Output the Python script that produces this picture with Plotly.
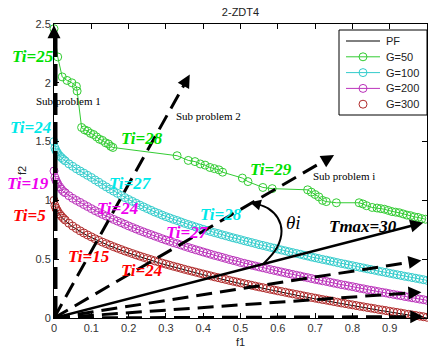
import math
import plotly.graph_objects as go

# ---------------- data ----------------
# shared f1 samples for the PF and the G=100/200/300 populations
grid_f1 = [0.0, 0.0025, 0.005, 0.0075, 0.01, 0.015, 0.02, 0.025, 0.03, 0.04, 0.05, 0.06, 0.07, 0.08, 0.09,
           0.10, 0.11, 0.12, 0.13, 0.14, 0.15, 0.16, 0.17, 0.18, 0.19,
           0.20, 0.21, 0.22, 0.23, 0.24, 0.25, 0.26, 0.27, 0.28, 0.29,
           0.30, 0.31, 0.32, 0.33, 0.34, 0.35, 0.36, 0.37, 0.38, 0.39,
           0.40, 0.41, 0.42, 0.43, 0.44, 0.45, 0.46, 0.47, 0.48, 0.49,
           0.50, 0.51, 0.52, 0.53, 0.54, 0.55, 0.56, 0.57, 0.58, 0.59,
           0.60, 0.61, 0.62, 0.63, 0.64, 0.65, 0.66, 0.67, 0.68, 0.69,
           0.70, 0.71, 0.72, 0.73, 0.74, 0.75, 0.76, 0.77, 0.78, 0.79,
           0.80, 0.81, 0.82, 0.83, 0.84, 0.85, 0.86, 0.87, 0.88, 0.89,
           0.90, 0.91, 0.92, 0.93, 0.94, 0.95, 0.96, 0.97, 0.98, 0.99, 1.00]

pf_f2 = [1.000, 0.950, 0.929, 0.913, 0.900, 0.878, 0.859, 0.842, 0.827, 0.800, 0.776, 0.755, 0.735, 0.717, 0.700,
         0.684, 0.668, 0.654, 0.639, 0.626, 0.613, 0.600, 0.588, 0.576, 0.564,
         0.553, 0.542, 0.531, 0.520, 0.510, 0.500, 0.490, 0.480, 0.471, 0.461,
         0.452, 0.443, 0.434, 0.426, 0.417, 0.408, 0.400, 0.392, 0.384, 0.376,
         0.368, 0.360, 0.352, 0.344, 0.337, 0.329, 0.322, 0.314, 0.307, 0.300,
         0.293, 0.286, 0.279, 0.272, 0.265, 0.258, 0.252, 0.245, 0.238, 0.232,
         0.225, 0.219, 0.213, 0.206, 0.200, 0.194, 0.188, 0.181, 0.175, 0.169,
         0.163, 0.157, 0.151, 0.146, 0.140, 0.134, 0.128, 0.122, 0.117, 0.111,
         0.106, 0.100, 0.094, 0.089, 0.083, 0.078, 0.073, 0.067, 0.062, 0.057,
         0.051, 0.046, 0.041, 0.036, 0.030, 0.025, 0.020, 0.015, 0.010, 0.005, 0.000]

g100_f2 = [1.500, 1.446, 1.426, 1.411, 1.400, 1.380, 1.364, 1.349, 1.336, 1.311, 1.290, 1.269, 1.250, 1.232, 1.213,
           1.195, 1.174, 1.155, 1.134, 1.115, 1.096, 1.078, 1.060, 1.042, 1.024,
           1.008, 0.992, 0.976, 0.960, 0.945, 0.930, 0.916, 0.901, 0.889, 0.875,
           0.862, 0.851, 0.839, 0.829, 0.817, 0.805, 0.795, 0.785, 0.774, 0.764,
           0.754, 0.745, 0.735, 0.726, 0.718, 0.708, 0.700, 0.691, 0.682, 0.674,
           0.666, 0.657, 0.649, 0.641, 0.633, 0.624, 0.617, 0.609, 0.601, 0.594,
           0.586, 0.578, 0.571, 0.563, 0.556, 0.549, 0.542, 0.534, 0.527, 0.519,
           0.512, 0.505, 0.498, 0.492, 0.485, 0.478, 0.471, 0.464, 0.458, 0.451,
           0.445, 0.438, 0.431, 0.425, 0.418, 0.412, 0.406, 0.399, 0.393, 0.387,
           0.380, 0.374, 0.368, 0.362, 0.355, 0.350, 0.344, 0.338, 0.332, 0.326, 0.320]

g200_f2 = [1.250, 1.195, 1.172, 1.154, 1.140, 1.116, 1.095, 1.076, 1.065, 1.040, 1.018, 1.000, 0.983, 0.965, 0.948,
           0.930, 0.913, 0.897, 0.881, 0.867, 0.852, 0.838, 0.824, 0.811, 0.797,
           0.783, 0.770, 0.757, 0.744, 0.732, 0.720, 0.709, 0.697, 0.686, 0.674,
           0.663, 0.652, 0.641, 0.632, 0.621, 0.610, 0.600, 0.590, 0.580, 0.571,
           0.561, 0.552, 0.542, 0.533, 0.525, 0.516, 0.507, 0.498, 0.490, 0.482,
           0.472, 0.465, 0.457, 0.449, 0.442, 0.434, 0.427, 0.420, 0.412, 0.405,
           0.398, 0.391, 0.384, 0.377, 0.370, 0.363, 0.357, 0.349, 0.343, 0.336,
           0.329, 0.323, 0.316, 0.311, 0.304, 0.297, 0.291, 0.284, 0.279, 0.272,
           0.267, 0.260, 0.253, 0.248, 0.241, 0.236, 0.230, 0.224, 0.218, 0.213,
           0.206, 0.201, 0.195, 0.190, 0.183, 0.178, 0.172, 0.167, 0.161, 0.156, 0.150]

g300_f2 = [1.000, 0.956, 0.935, 0.919, 0.906, 0.884, 0.865, 0.848, 0.833, 0.806, 0.782, 0.761, 0.741, 0.723, 0.706,
           0.690, 0.674, 0.660, 0.645, 0.632, 0.619, 0.606, 0.594, 0.582, 0.570,
           0.559, 0.548, 0.537, 0.526, 0.516, 0.506, 0.496, 0.486, 0.477, 0.467,
           0.458, 0.449, 0.440, 0.432, 0.423, 0.414, 0.406, 0.398, 0.390, 0.382,
           0.374, 0.366, 0.358, 0.350, 0.343, 0.335, 0.328, 0.320, 0.313, 0.306,
           0.299, 0.292, 0.285, 0.278, 0.271, 0.264, 0.258, 0.251, 0.244, 0.238,
           0.231, 0.225, 0.219, 0.212, 0.206, 0.200, 0.194, 0.187, 0.181, 0.175,
           0.169, 0.163, 0.157, 0.152, 0.146, 0.140, 0.134, 0.128, 0.123, 0.117,
           0.112, 0.106, 0.100, 0.095, 0.089, 0.084, 0.079, 0.073, 0.068, 0.063,
           0.057, 0.052, 0.047, 0.042, 0.036, 0.031, 0.026, 0.021, 0.016, 0.011, 0.006]

g50_f1 = [0.0, 0.01, 0.022, 0.035, 0.048, 0.06, 0.062, 0.074, 0.082, 0.09, 0.098, 0.106, 0.114,
          0.122, 0.13, 0.138, 0.146, 0.152, 0.158, 0.33, 0.36, 0.378, 0.392, 0.405, 0.418, 0.43,
          0.442, 0.452, 0.505, 0.52, 0.56, 0.585, 0.68, 0.69, 0.70, 0.71, 0.72, 0.73, 0.757, 0.818,
          0.828, 0.838, 0.853, 0.866, 0.876, 0.886, 0.896, 0.906, 0.916, 0.926, 0.936, 0.946, 0.956,
          0.966, 0.976, 0.986, 0.996]
g50_f2 = [2.46, 2.22, 2.05, 2.02, 2.00, 1.97, 1.93, 1.62, 1.60, 1.59, 1.57, 1.56, 1.54,
          1.52, 1.51, 1.49, 1.48, 1.46, 1.45, 1.38, 1.34, 1.33, 1.31, 1.30, 1.28, 1.27,
          1.26, 1.24, 1.19, 1.16, 1.11, 1.10, 1.09, 1.07, 1.05, 1.03, 1.00, 0.99, 0.98, 0.98,
          0.97, 0.955, 0.94, 0.935, 0.93, 0.925, 0.915, 0.905, 0.90, 0.895, 0.885, 0.875, 0.87,
          0.86, 0.855, 0.845, 0.84]

# weight-vector directions from the origin (arrow tips)
dir_tip_f1 = [0.0, 0.364, 0.751, 0.99, 0.985, 0.985, 0.99]
dir_tip_f2 = [2.49, 2.07, 1.386, 0.81, 0.49, 0.22, 0.012]
dir_kind = ["long", "dash", "dash", "solid", "dash", "dash", "dash"]

# angle arc between Tmax direction and sub problem i
theta_arc_f1 = [0.561, 0.598, 0.610, 0.600, 0.575, 0.545, 0.525]
theta_arc_f2 = [0.46, 0.60, 0.74, 0.85, 0.93, 0.968, 0.985]

# Ti annotations
ti_text = ["Ti=25", "Ti=24", "Ti=19", "Ti=5", "Ti=15", "Ti=24", "Ti=24", "Ti=27",
           "Ti=27", "Ti=28", "Ti=28", "Ti=29"]
ti_f1 = [-0.056, -0.064, -0.07, -0.067, 0.094, 0.235, 0.171, 0.358, 0.206, 0.449, 0.235, 0.583]
ti_f2 = [2.22, 1.62, 1.14, 0.87, 0.52, 0.40, 0.93, 0.73, 1.14, 0.876, 1.53, 1.26]
ti_color = ["#00e000", "#00e8e8", "#ee00ee", "#ff0000", "#ff0000", "#ff0000", "#ee00ee", "#ee00ee",
            "#00e8e8", "#00e8e8", "#00e000", "#00e000"]

sub_text = ["Sub problem 1", "Sub problem 2", "Sub problem i"]
sub_f1 = [0.04, 0.414, 0.778]
sub_f2 = [1.845, 1.72, 1.21]

legend_names = ["PF", "G=50", "G=100", "G=200", "G=300"]

# ---------------- styling ----------------
W, H = 428, 348
ML, MR, MT, MB = 54, 1, 24, 30
X_RANGE = [0, 1]
Y_RANGE = [0, 2.5]
PLOT_W = W - ML - MR
PLOT_H = H - MT - MB
PX_X = PLOT_W / (X_RANGE[1] - X_RANGE[0])
PX_Y = PLOT_H / (Y_RANGE[1] - Y_RANGE[0])

C_G50 = "#33cc33"
C_G100 = "#33cccc"
C_G200 = "#bb33bb"
C_G300 = "#b02a2a"
legend_colors = ["black", C_G50, C_G100, C_G200, C_G300]
legend_line = [True, True, True, True, False]
legend_marker = [False, True, True, True, True]

MS = 8


def paper_x(px):
    return (px - ML) / PLOT_W


def paper_y(py):
    return (H - MB - py) / PLOT_H


fig = go.Figure()

fig.add_trace(go.Scatter(x=grid_f1, y=pf_f2, mode="lines", name="PF", showlegend=False,
                         line=dict(color="black", width=1)))
fig.add_trace(go.Scatter(x=g50_f1, y=g50_f2, mode="lines+markers", name="G=50", showlegend=False,
                         line=dict(color=C_G50, width=1),
                         marker=dict(symbol="circle-open", size=MS, color=C_G50, line=dict(width=1)),
                         cliponaxis=False))
fig.add_trace(go.Scatter(x=grid_f1, y=g100_f2, mode="lines+markers", name="G=100", showlegend=False,
                         line=dict(color=C_G100, width=1),
                         marker=dict(symbol="circle-open", size=MS, color=C_G100, line=dict(width=1)),
                         cliponaxis=False))
fig.add_trace(go.Scatter(x=grid_f1, y=g200_f2, mode="lines+markers", name="G=200", showlegend=False,
                         line=dict(color=C_G200, width=1),
                         marker=dict(symbol="circle-open", size=MS, color=C_G200, line=dict(width=1)),
                         cliponaxis=False))
fig.add_trace(go.Scatter(x=grid_f1, y=g300_f2, mode="markers", name="G=300", showlegend=False,
                         marker=dict(symbol="circle-open", size=MS, color=C_G300, line=dict(width=1)),
                         cliponaxis=False))


def back_off(tx, ty, fx, fy, px):
    """Point px pixels before (tx, ty) along the direction from (fx, fy)."""
    dx = (tx - fx) * PX_X
    dy = (ty - fy) * PX_Y
    n = math.hypot(dx, dy)
    return tx - dx / n * px / PX_X, ty - dy / n * px / PX_Y


annotations = []
shapes = []
dash_styles = {"long": ("22px,7px", 7), "dash": ("16px,8px", 3), "solid": ("solid", 2.5)}
for tx, ty, kind in zip(dir_tip_f1, dir_tip_f2, dir_kind):
    dash, width = dash_styles[kind]
    ex, ey = back_off(tx, ty, 0, 0, 8)
    fig.add_trace(go.Scatter(x=[0, ex], y=[0, ey], mode="lines", showlegend=False,
                             hoverinfo="skip", line=dict(color="black", width=width, dash=dash)))
    hx, hy = back_off(tx, ty, 0, 0, 14)
    annotations.append(dict(x=tx, y=ty, ax=hx, ay=hy, xref="x", yref="y", axref="x", ayref="y",
                            text="", showarrow=True, arrowhead=2, arrowsize=1.3, arrowwidth=2,
                            arrowcolor="black", standoff=0, startstandoff=0))

# angle arc with its arrowhead
fig.add_trace(go.Scatter(x=theta_arc_f1[:-1], y=theta_arc_f2[:-1], mode="lines", showlegend=False,
                         hoverinfo="skip", line=dict(color="black", width=2, shape="spline")))
hx, hy = back_off(theta_arc_f1[-1], theta_arc_f2[-1], theta_arc_f1[-2], theta_arc_f2[-2], 11)
annotations.append(dict(x=theta_arc_f1[-1], y=theta_arc_f2[-1], ax=hx, ay=hy, xref="x", yref="y",
                        axref="x", ayref="y", text="", showarrow=True, arrowhead=2, arrowsize=1.1,
                        arrowwidth=2, arrowcolor="black", standoff=0))

# Ti labels (x range is 0..1, so paper x equals f1 and labels left of the axis stay visible)
for t, x, y, c in zip(ti_text, ti_f1, ti_f2, ti_color):
    annotations.append(dict(x=(x - X_RANGE[0]) / (X_RANGE[1] - X_RANGE[0]), y=y, xref="paper", yref="y",
                            xanchor="center", yanchor="middle",
                            text="<b><i>%s</i></b>" % t, showarrow=False,
                            font=dict(family="Liberation Serif", size=17, color=c)))

for t, x, y in zip(sub_text, sub_f1, sub_f2):
    annotations.append(dict(x=x, y=y, xref="x", yref="y", text=t, showarrow=False,
                            xanchor="center", yanchor="middle",
                            font=dict(family="Liberation Serif", size=11, color="black")))

annotations.append(dict(x=0.829, y=0.78, xref="x", yref="y", text="<b><i>Tmax=30</i></b>",
                        xanchor="center", yanchor="middle",
                        showarrow=False, font=dict(family="Liberation Serif", size=17, color="black")))
annotations.append(dict(x=0.642, y=0.816, xref="x", yref="y", text="<i>θi</i>",
                        xanchor="center", yanchor="middle",
                        showarrow=False, font=dict(family="Liberation Serif", size=19, color="black")))

# axis titles
annotations.append(dict(x=0.5, y=0, xref="paper", yref="paper", yshift=-24, yanchor="middle",
                        xanchor="center", text="f1", showarrow=False,
                        font=dict(family="Liberation Sans", size=11, color="#222")))
annotations.append(dict(x=0, y=0.5, xref="paper", yref="paper", xshift=-32, xanchor="center",
                        yanchor="middle", text="f2", textangle=-90, showarrow=False,
                        font=dict(family="Liberation Sans", size=11, color="#222")))

# legend box
LG_L, LG_R, LG_T, LG_B = 339, 427, 30, 115
LG_ROW0, LG_STEP = 41, 15.8
LG_LINE_L, LG_LINE_R, LG_TEXT = 346, 380, 384
shapes.append(dict(type="rect", xref="paper", yref="paper", x0=paper_x(LG_L), x1=paper_x(LG_R),
                   y0=paper_y(LG_B), y1=paper_y(LG_T), line=dict(color="black", width=1),
                   fillcolor="white", layer="above"))
for i, (name, col, has_line, has_marker) in enumerate(zip(legend_names, legend_colors,
                                                           legend_line, legend_marker)):
    cy = LG_ROW0 + i * LG_STEP
    if has_line:
        shapes.append(dict(type="line", xref="paper", yref="paper", x0=paper_x(LG_LINE_L),
                           x1=paper_x(LG_LINE_R), y0=paper_y(cy), y1=paper_y(cy),
                           line=dict(color=col, width=1), layer="above"))
    if has_marker:
        cx = (LG_LINE_L + LG_LINE_R) / 2
        r = MS / 2
        shapes.append(dict(type="circle", xref="paper", yref="paper", x0=paper_x(cx - r),
                           x1=paper_x(cx + r), y0=paper_y(cy + r), y1=paper_y(cy - r),
                           line=dict(color=col, width=1), fillcolor="rgba(0,0,0,0)", layer="above"))
    annotations.append(dict(x=paper_x(LG_TEXT), y=paper_y(cy), xref="paper", yref="paper",
                            xanchor="left", yanchor="middle", text=name, showarrow=False,
                            font=dict(family="Liberation Sans", size=11, color="#222")))

axis_common = dict(showgrid=False, zeroline=False, showline=True, linecolor="black", linewidth=1,
                   mirror="allticks", ticks="inside", ticklen=5, tickcolor="black",
                   tickfont=dict(family="Liberation Sans", size=11, color="#333"))

fig.update_layout(
    width=W, height=H,
    margin=dict(l=ML, r=MR, t=MT, b=MB),
    plot_bgcolor="white", paper_bgcolor="white",
    title=dict(text="2-ZDT4", x=0.5, xref="paper", xanchor="center", y=1 - 12 / H,
               yanchor="middle", font=dict(family="Liberation Sans", size=11, color="#222")),
    xaxis=dict(range=X_RANGE, dtick=0.1, tick0=0, **axis_common),
    yaxis=dict(range=Y_RANGE, dtick=0.5, tick0=0, **axis_common),
    annotations=annotations,
    shapes=shapes,
    showlegend=False,
)

fig.write_html("out.html")
